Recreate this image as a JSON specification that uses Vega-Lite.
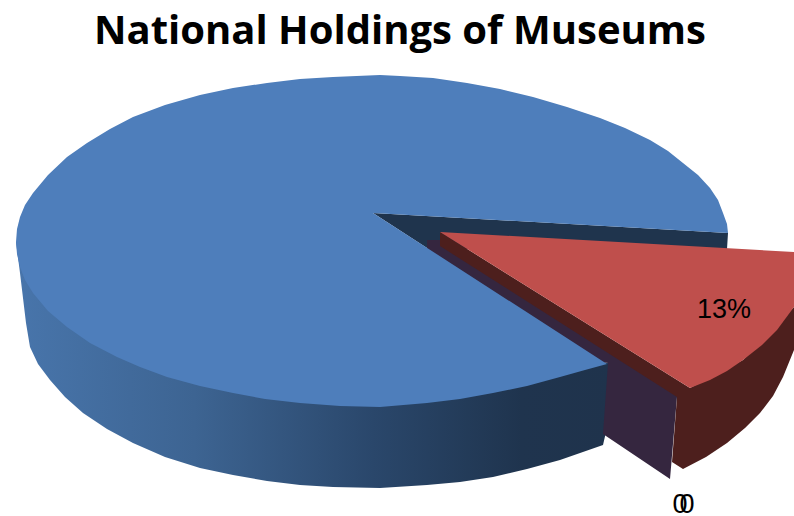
{
"$schema":"https://vega.github.io/schema/vega-lite/v6.json",
"width":794,"height":516,"padding":0,"autosize":{"type":"none"},
"background":"white",
"title":{"text":"National Holdings of Museums","font":"Open Sans","fontWeight":"bold","fontSize":40,"color":"#000000","anchor":"middle","baseline":"alphabetic","offset":-84,"dx":3},
"view":{"stroke":null},
"datasets":{
"outline":[
{"part":"blue wall","seq":1,"x":16,"y":242},{"part":"blue wall","seq":2,"x":20,"y":273},{"part":"blue wall","seq":3,"x":26,"y":323},{"part":"blue wall","seq":4,"x":30,"y":347},{"part":"blue wall","seq":5,"x":38,"y":364},{"part":"blue wall","seq":6,"x":50,"y":380},{"part":"blue wall","seq":7,"x":65,"y":397},{"part":"blue wall","seq":8,"x":83,"y":413},{"part":"blue wall","seq":9,"x":107,"y":429},{"part":"blue wall","seq":10,"x":133,"y":443},{"part":"blue wall","seq":11,"x":165,"y":457},{"part":"blue wall","seq":12,"x":200,"y":468},{"part":"blue wall","seq":13,"x":233,"y":475},{"part":"blue wall","seq":14,"x":267,"y":481},{"part":"blue wall","seq":15,"x":300,"y":485},{"part":"blue wall","seq":16,"x":333,"y":487},{"part":"blue wall","seq":17,"x":380,"y":488},{"part":"blue wall","seq":18,"x":427,"y":485},{"part":"blue wall","seq":19,"x":460,"y":482},{"part":"blue wall","seq":20,"x":493,"y":477},{"part":"blue wall","seq":21,"x":527,"y":469},{"part":"blue wall","seq":22,"x":560,"y":460},{"part":"blue wall","seq":23,"x":603,"y":445},{"part":"blue wall","seq":24,"x":606,"y":432},{"part":"blue wall","seq":25,"x":611,"y":364},{"part":"blue wall","seq":26,"x":380,"y":300},
{"part":"inner wall","seq":1,"x":373,"y":213},{"part":"inner wall","seq":2,"x":728,"y":233},{"part":"inner wall","seq":3,"x":727,"y":249},{"part":"inner wall","seq":4,"x":440,"y":249},{"part":"inner wall","seq":5,"x":427,"y":248},
{"part":"zero slice","seq":1,"x":427,"y":240},{"part":"zero slice","seq":2,"x":440,"y":240},{"part":"zero slice","seq":3,"x":677,"y":390},{"part":"zero slice","seq":4,"x":677,"y":397},{"part":"zero slice","seq":5,"x":670,"y":479},{"part":"zero slice","seq":6,"x":603,"y":434},{"part":"zero slice","seq":7,"x":608,"y":363},{"part":"zero slice","seq":8,"x":590,"y":360},{"part":"zero slice","seq":9,"x":427,"y":260},
{"part":"blue top","seq":1,"x":728,"y":233},{"part":"blue top","seq":2,"x":373,"y":213},{"part":"blue top","seq":3,"x":607,"y":364},{"part":"blue top","seq":4,"x":585,"y":370},{"part":"blue top","seq":5,"x":560,"y":377},{"part":"blue top","seq":6,"x":527,"y":386},{"part":"blue top","seq":7,"x":493,"y":393},{"part":"blue top","seq":8,"x":460,"y":399},{"part":"blue top","seq":9,"x":427,"y":403},{"part":"blue top","seq":10,"x":380,"y":407},{"part":"blue top","seq":11,"x":340,"y":406},{"part":"blue top","seq":12,"x":300,"y":403},{"part":"blue top","seq":13,"x":265,"y":399},{"part":"blue top","seq":14,"x":233,"y":393},{"part":"blue top","seq":15,"x":200,"y":386},{"part":"blue top","seq":16,"x":167,"y":377},{"part":"blue top","seq":17,"x":140,"y":367},{"part":"blue top","seq":18,"x":117,"y":357},{"part":"blue top","seq":19,"x":90,"y":343},{"part":"blue top","seq":20,"x":67,"y":327},{"part":"blue top","seq":21,"x":48,"y":311},{"part":"blue top","seq":22,"x":33,"y":293},{"part":"blue top","seq":23,"x":25,"y":280},{"part":"blue top","seq":24,"x":20,"y":267},{"part":"blue top","seq":25,"x":17,"y":254},{"part":"blue top","seq":26,"x":16,"y":242},{"part":"blue top","seq":27,"x":17,"y":229},{"part":"blue top","seq":28,"x":20,"y":217},{"part":"blue top","seq":29,"x":25,"y":205},{"part":"blue top","seq":30,"x":33,"y":193},{"part":"blue top","seq":31,"x":48,"y":175},{"part":"blue top","seq":32,"x":67,"y":157},{"part":"blue top","seq":33,"x":87,"y":143},{"part":"blue top","seq":34,"x":110,"y":129},{"part":"blue top","seq":35,"x":133,"y":117},{"part":"blue top","seq":36,"x":165,"y":105},{"part":"blue top","seq":37,"x":200,"y":95},{"part":"blue top","seq":38,"x":233,"y":88},{"part":"blue top","seq":39,"x":267,"y":83},{"part":"blue top","seq":40,"x":300,"y":79},{"part":"blue top","seq":41,"x":333,"y":77},{"part":"blue top","seq":42,"x":380,"y":75},{"part":"blue top","seq":43,"x":400,"y":76},{"part":"blue top","seq":44,"x":433,"y":78},{"part":"blue top","seq":45,"x":467,"y":83},{"part":"blue top","seq":46,"x":500,"y":89},{"part":"blue top","seq":47,"x":533,"y":97},{"part":"blue top","seq":48,"x":567,"y":107},{"part":"blue top","seq":49,"x":600,"y":118},{"part":"blue top","seq":50,"x":625,"y":128},{"part":"blue top","seq":51,"x":650,"y":140},{"part":"blue top","seq":52,"x":668,"y":151},{"part":"blue top","seq":53,"x":683,"y":163},{"part":"blue top","seq":54,"x":698,"y":175},{"part":"blue top","seq":55,"x":710,"y":188},{"part":"blue top","seq":56,"x":718,"y":200},{"part":"blue top","seq":57,"x":723,"y":213},{"part":"blue top","seq":58,"x":727,"y":224},
{"part":"red wall","seq":1,"x":440,"y":232},{"part":"red wall","seq":2,"x":440,"y":246},{"part":"red wall","seq":3,"x":677,"y":397},{"part":"red wall","seq":4,"x":672,"y":462},{"part":"red wall","seq":5,"x":683,"y":469},{"part":"red wall","seq":6,"x":706,"y":457},{"part":"red wall","seq":7,"x":727,"y":443},{"part":"red wall","seq":8,"x":745,"y":428},{"part":"red wall","seq":9,"x":760,"y":413},{"part":"red wall","seq":10,"x":773,"y":396},{"part":"red wall","seq":11,"x":783,"y":377},{"part":"red wall","seq":12,"x":794,"y":350},{"part":"red wall","seq":13,"x":794,"y":307},{"part":"red wall","seq":14,"x":743,"y":360},{"part":"red wall","seq":15,"x":690,"y":388},
{"part":"red top","seq":1,"x":440,"y":232},{"part":"red top","seq":2,"x":794,"y":252},{"part":"red top","seq":3,"x":794,"y":307},{"part":"red top","seq":4,"x":777,"y":330},{"part":"red top","seq":5,"x":762,"y":345},{"part":"red top","seq":6,"x":743,"y":360},{"part":"red top","seq":7,"x":727,"y":371},{"part":"red top","seq":8,"x":710,"y":380},{"part":"red top","seq":9,"x":690,"y":388}
],
"labels":[
{"label":"13%","x":724,"y":318},{"label":"0","x":680,"y":513},{"label":"0","x":687,"y":513}
]
},
"encoding":{
"x":{"field":"x","type":"quantitative","scale":{"domain":[0,794]},"axis":null},
"y":{"field":"y","type":"quantitative","scale":{"domain":[516,0]},"axis":null},
"order":{"field":"seq","type":"quantitative"}
},
"layer":[
{"data":{"name":"outline"},"transform":[{"filter":"datum.part==='blue wall'"}],
 "mark":{"type":"line","interpolate":"linear-closed","stroke":null,"clip":false,"fill":{"x1":0,"y1":0,"x2":1,"y2":0,"gradient":"linear","stops":[{"offset":0,"color":"#4875ab"},{"offset":0.3,"color":"#3d6492"},{"offset":0.6,"color":"#2a476b"},{"offset":0.85,"color":"#1f344e"},{"offset":1,"color":"#1f334c"}]}}},
{"data":{"name":"outline"},"transform":[{"filter":"datum.part==='inner wall'"}],
 "mark":{"type":"line","interpolate":"linear-closed","stroke":null,"fill":"#1f344d"}},
{"data":{"name":"outline"},"transform":[{"filter":"datum.part==='zero slice'"}],
 "mark":{"type":"line","interpolate":"linear-closed","stroke":null,"fill":"#35263f"}},
{"data":{"name":"outline"},"transform":[{"filter":"datum.part==='blue top'"}],
 "mark":{"type":"line","interpolate":"linear-closed","stroke":null,"fill":"#4e7ebb"}},
{"data":{"name":"outline"},"transform":[{"filter":"datum.part==='red wall'"}],
 "mark":{"type":"line","interpolate":"linear-closed","stroke":null,"fill":"#4d1f1d"}},
{"data":{"name":"outline"},"transform":[{"filter":"datum.part==='red top'"}],
 "mark":{"type":"line","interpolate":"linear-closed","stroke":null,"fill":"#bf4f4c"}},
{"data":{"name":"labels"},
 "mark":{"type":"text","font":"Liberation Sans","fontSize":27,"color":"#000000","align":"center","baseline":"alphabetic"},
 "encoding":{"text":{"field":"label","type":"nominal"},"order":{"value":null}}}
]
}
